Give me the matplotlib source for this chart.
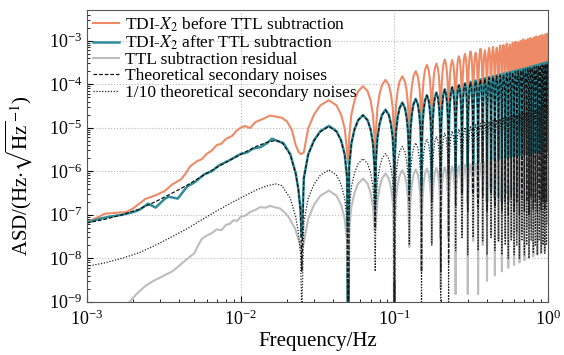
import numpy as np
import matplotlib
matplotlib.use("Agg")
import matplotlib.pyplot as plt

plt.rcParams['font.family'] = ['Liberation Serif', 'DejaVu Serif']
plt.rcParams['mathtext.fontset'] = 'stix'

# ---- low frequency part (below the first null at 0.025 Hz) ----
theory_lo_f = [0.001, 0.0013, 0.0017, 0.0022, 0.0028, 0.0035, 0.0045, 0.0057, 0.0072, 0.009,
               0.011, 0.0128, 0.0148, 0.0168, 0.0185, 0.021, 0.0228, 0.0237, 0.0245]
theory_lo_v = [6.5e-8, 7.8e-8, 1.0e-7, 1.35e-7, 2.0e-7, 3.0e-7, 4.8e-7, 8.0e-7, 1.3e-6, 2.0e-6,
               2.9e-6, 3.8e-6, 4.6e-6, 5.1e-6, 4.7e-6, 2.4e-6, 9e-7, 4e-7, 1.3e-7]

teal_lo_f = [0.001, 0.0012, 0.0014, 0.0017, 0.002, 0.0022, 0.0025, 0.0028, 0.0032, 0.0034, 0.0039,
             0.0045, 0.005, 0.0058, 0.0065, 0.0072, 0.0085, 0.01, 0.011, 0.012, 0.0135, 0.0148,
             0.016, 0.0175, 0.019, 0.021, 0.0228, 0.0237, 0.0245]
teal_lo_v = [6.6e-8, 8.0e-8, 9.0e-8, 1.0e-7, 1.15e-7, 1.3e-7, 1.8e-7, 1.46e-7, 2.3e-7, 2.6e-7, 2.35e-7,
             4.5e-7, 5.5e-7, 8.5e-7, 1.0e-6, 1.35e-6, 1.8e-6, 2.5e-6, 2.7e-6, 3.3e-6, 3.6e-6, 4.4e-6,
             5.6e-6, 4.9e-6, 4.4e-6, 2.5e-6, 9e-7, 4e-7, 1.3e-7]

orange_lo_f = [0.001, 0.0012, 0.0013, 0.0016, 0.0018, 0.002, 0.0024, 0.0028, 0.0032, 0.0036, 0.0041,
               0.0044, 0.0047, 0.0052, 0.0056, 0.006, 0.0065, 0.007, 0.0075, 0.008, 0.0088, 0.0094,
               0.01, 0.0107, 0.0115, 0.0125, 0.014, 0.0155, 0.017, 0.0185, 0.02, 0.0215, 0.0228,
               0.0238, 0.0245]
orange_lo_v = [6.8e-8, 9e-8, 1.05e-7, 1.12e-7, 1.15e-7, 1.4e-7, 2.3e-7, 2.8e-7, 3.5e-7, 5e-7, 6.5e-7,
               9e-7, 1.3e-6, 1.7e-6, 1.9e-6, 2.5e-6, 3e-6, 4.0e-6, 4.3e-6, 5.5e-6, 6.5e-6, 8.5e-6,
               1.0e-5, 1.1e-5, 9.8e-6, 1.35e-5, 1.6e-5, 1.9e-5, 1.8e-5, 1.7e-5, 1.4e-5, 9e-6, 4e-6,
               2.8e-6, 2.5e-6]

gray_lo_f = [0.0017, 0.0019, 0.0021, 0.0024, 0.0027, 0.003, 0.0033, 0.0036, 0.0039, 0.0043, 0.0047,
             0.005, 0.0053, 0.0056, 0.006, 0.0065, 0.007, 0.0075, 0.008, 0.0085, 0.009, 0.0095,
             0.01, 0.0107, 0.0115, 0.0125, 0.0134, 0.0145, 0.0155, 0.0165, 0.018, 0.0195, 0.0205,
             0.0226, 0.0243]
gray_lo_v = [6e-10, 1e-9, 1.5e-9, 2.3e-9, 3.0e-9, 3.6e-9, 4.3e-9, 5.0e-9, 6.3e-9, 8.5e-9, 1.1e-8,
             1.3e-8, 2.0e-8, 2.8e-8, 3.3e-8, 3.8e-8, 4.6e-8, 4.4e-8, 5.8e-8, 6.2e-8, 7.5e-8, 7.2e-8,
             9e-8, 9.5e-8, 1.15e-7, 1.3e-7, 1.5e-7, 1.45e-7, 1.6e-7, 1.5e-7, 1.4e-7, 1.1e-7, 8.9e-8,
             4.8e-8, 2.1e-8]

# ---- lobed part: nulls every 0.025 Hz, one peak per lobe ----
null_f = [0.025, 0.05, 0.075, 0.1, 0.125, 0.15, 0.175, 0.2, 0.225, 0.25, 0.275, 0.3, 0.325,
          0.35, 0.375, 0.4, 0.425, 0.45, 0.475, 0.5, 0.525, 0.55, 0.575, 0.6, 0.625, 0.65,
          0.675, 0.7, 0.725, 0.75, 0.775, 0.8, 0.825, 0.85, 0.875, 0.9, 0.925, 0.95, 0.975]

theory_null = [5e-9, 1e-12, 5e-8, 1e-12, 2e-7, 5e-9, 2e-7, 5e-9, 8e-9, 1.5e-7, 3e-7, 1.2e-7, 3e-7,
               1.5e-7, 2.5e-7, 1.2e-7, 3e-7, 1.5e-7, 2.5e-7, 1.2e-7, 2e-7, 1e-7, 2.5e-7, 1.2e-7,
               2e-7, 1e-7, 2.5e-7, 1.2e-7, 2e-7, 1e-7, 2.5e-7, 1.3e-7, 2e-7, 1.2e-7, 2.5e-7,
               1.3e-7, 2e-7, 1.3e-7, 2e-7]
theory_peak = [1.07e-5, 1.95e-5, 2.55e-5, 3.7e-5, 4.5e-5, 5.5e-5, 6.3e-5, 7.5e-5, 8.4e-5, 9.3e-5,
               1.02e-4, 1.1e-4, 1.18e-4, 1.26e-4, 1.33e-4, 1.4e-4, 1.47e-4, 1.53e-4, 1.6e-4,
               1.66e-4, 1.73e-4, 1.8e-4, 1.86e-4, 1.93e-4, 2.0e-4, 2.07e-4, 2.14e-4, 2.21e-4,
               2.28e-4, 2.35e-4, 2.42e-4, 2.49e-4, 2.56e-4, 2.63e-4, 2.7e-4, 2.77e-4, 2.84e-4,
               2.91e-4, 2.98e-4]

teal_null = [3e-8, 1e-12, 6e-8, 1e-12, 3e-7, 3e-8, 3e-7, 3e-8, 4e-8, 2.5e-7, 4e-7, 2e-7, 4e-7,
             2.5e-7, 3.5e-7, 2e-7, 4e-7, 2.5e-7, 3.5e-7, 2e-7, 3e-7, 2e-7, 3.5e-7, 2e-7, 3e-7,
             2e-7, 3.5e-7, 2e-7, 3e-7, 2e-7, 3.5e-7, 2e-7, 3e-7, 2e-7, 3.5e-7, 2e-7, 3e-7, 2e-7,
             3e-7]
teal_peak = [1.1e-5, 1.95e-5, 2.6e-5, 3.8e-5, 4.6e-5, 5.6e-5, 6.5e-5, 7.7e-5, 8.6e-5, 9.6e-5,
             1.05e-4, 1.14e-4, 1.22e-4, 1.3e-4, 1.38e-4, 1.46e-4, 1.53e-4, 1.6e-4, 1.68e-4,
             1.75e-4, 1.83e-4, 1.9e-4, 1.97e-4, 2.05e-4, 2.12e-4, 2.2e-4, 2.27e-4, 2.35e-4,
             2.43e-4, 2.5e-4, 2.58e-4, 2.66e-4, 2.74e-4, 2.82e-4, 2.9e-4, 2.98e-4, 3.06e-4,
             3.14e-4, 3.22e-4]

orange_null = [2.5e-6, 1.5e-6, 2e-6, 2.5e-6, 3e-6, 3e-6, 3.5e-6, 4e-6, 4.5e-6, 5e-6, 5.5e-6, 6e-6,
               6.5e-6, 7e-6, 7e-6, 7.5e-6, 8e-6, 8e-6, 8.5e-6, 9e-6, 9e-6, 9.5e-6, 1e-5, 1e-5,
               1.05e-5, 1.1e-5, 1.1e-5, 1.15e-5, 1.2e-5, 1.2e-5, 1.25e-5, 1.3e-5, 1.3e-5, 1.35e-5,
               1.4e-5, 1.4e-5, 1.45e-5, 1.5e-5, 1.5e-5]
orange_peak = [4.3e-5, 9.0e-5, 1.26e-4, 1.52e-4, 2.0e-4, 2.8e-4, 3.0e-4, 3.7e-4, 3.6e-4, 4.4e-4,
               5.0e-4, 5.7e-4, 5.3e-4, 6.5e-4, 6.0e-4, 6.8e-4, 7.2e-4, 6.9e-4, 7.8e-4, 8.0e-4,
               8.6e-4, 8.2e-4, 9.0e-4, 9.5e-4, 9.2e-4, 1.0e-3, 1.07e-3, 1.03e-3, 1.1e-3, 1.15e-3,
               1.12e-3, 1.2e-3, 1.25e-3, 1.22e-3, 1.3e-3, 1.35e-3, 1.32e-3, 1.4e-3, 1.45e-3]

gray_null = [1.5e-8, 3e-9, 4.4e-8, 3e-9, 1.8e-8, 5e-9, 2.2e-8, 2e-9, 3e-8, 1.5e-9, 3e-8, 1.5e-9,
             2.5e-8, 1.5e-9, 2e-8, 3e-9, 3e-8, 4e-9, 2.5e-8, 5e-9, 3e-8, 6e-9, 3e-8, 7e-9, 4e-8,
             8e-9, 4e-8, 9e-9, 5e-8, 1e-8, 5e-8, 1.1e-8, 5e-8, 1.2e-8, 6e-8, 1.3e-8, 6e-8, 1.4e-8,
             6e-8]
gray_peak = [3.6e-7, 6.8e-7, 8.9e-7, 1.05e-6, 1.1e-6, 1.15e-6, 1.2e-6, 1.25e-6, 1.3e-6, 1.35e-6,
             1.4e-6, 1.45e-6, 1.5e-6, 1.55e-6, 1.6e-6, 1.65e-6, 1.7e-6, 1.75e-6, 1.8e-6, 1.85e-6,
             1.9e-6, 1.95e-6, 2.0e-6, 2.05e-6, 2.1e-6, 2.15e-6, 2.2e-6, 2.25e-6, 2.3e-6, 2.35e-6,
             2.4e-6, 2.45e-6, 2.5e-6, 2.55e-6, 2.6e-6, 2.65e-6, 2.7e-6, 2.75e-6, 2.8e-6]

# lobe outline: position inside lobe, drop below the peak (decades)
lobe_u = [0.03, 0.1, 0.2, 0.32, 0.5, 0.68, 0.8, 0.9, 0.97]
lobe_drop = [-1.2, -0.65, -0.33, -0.12, 0.0, -0.12, -0.33, -0.65, -1.2]


def build(lo_f, lo_v, nulls, peaks):
    f = list(lo_f)
    v = list(lo_v)
    for i in range(len(null_f)):
        f0 = null_f[i]
        f1 = null_f[i + 1] if i + 1 < len(null_f) else 1.0
        f.append(f0)
        v.append(nulls[i])
        for u, d in zip(lobe_u, lobe_drop):
            f.append(f0 + u * (f1 - f0))
            v.append(peaks[i] * 10 ** d)
    return np.array(f), np.array(v)


f_th, v_th = build(theory_lo_f, theory_lo_v, theory_null, theory_peak)
f_te, v_te = build(teal_lo_f, teal_lo_v, teal_null, teal_peak)
f_or, v_or = build(orange_lo_f, orange_lo_v, orange_null, orange_peak)
f_gr, v_gr = build(gray_lo_f, gray_lo_v, gray_null, gray_peak)

fig, ax = plt.subplots(figsize=(5.64, 3.55), dpi=100)
fig.subplots_adjust(left=0.154, right=0.972, top=0.972, bottom=0.15)

ax.loglog(f_or, v_or, color='#EE8A66', lw=1.5, label='TDI-$X_2$ before TTL subtraction')
ax.loglog(f_te, v_te, color='#2E8C9A', lw=1.8, label='TDI-$X_2$ after TTL subtraction')
ax.loglog(f_gr, v_gr, color='#BDBDBD', lw=1.5, label='TTL subtraction residual')
ax.loglog(f_th, v_th, color='#111111', lw=0.9, ls=(0, (3, 1.5)), label='Theoretical secondary noises')
ax.loglog(f_th, v_th / 10, color='#222222', lw=0.9, ls=(0, (1, 1.3)), label='1/10 theoretical secondary noises')

ax.set_xlim(1e-3, 1)
ax.set_ylim(1e-9, 5.1e-3)
ax.grid(True, which='major', ls=':', color='#BBBBBB', lw=0.8)
ax.tick_params(which='both', direction='in', labelsize=13)
ax.tick_params(axis='x', pad=6)
ax.tick_params(which='major', length=4)
ax.tick_params(which='minor', length=2)
for s in ax.spines.values():
    s.set_color('#555555')

ax.set_xlabel('Frequency/Hz', fontsize=15, labelpad=2)
ax.set_ylabel(r'ASD/(Hz$\cdot\sqrt{\mathrm{Hz}}^{-1}$)', fontsize=15)
ax.yaxis.set_label_coords(-0.112, 0.43)

ax.legend(loc='upper left', bbox_to_anchor=(-0.02, 1.035), frameon=False, fontsize=12.5,
          labelspacing=0.0, handlelength=1.5, handletextpad=0.3)

plt.savefig('out.png', dpi=100)
